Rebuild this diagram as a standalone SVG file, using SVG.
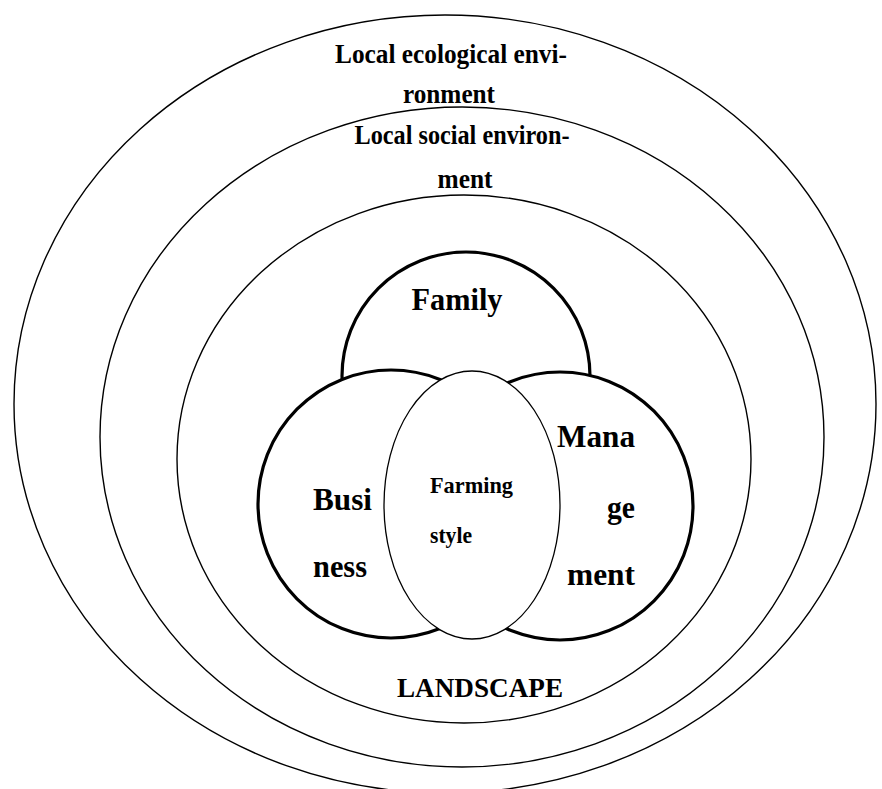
<svg xmlns="http://www.w3.org/2000/svg" width="882" height="789" viewBox="0 0 882 789">
<style>
.ring{fill:#ffffff;stroke:#000;stroke-width:1.4}
.set{fill:#ffffff;stroke:#000;stroke-width:3.2}
.core{fill:#ffffff;stroke:#000;stroke-width:1.3}
text{font-family:"Liberation Serif","Times New Roman",serif;font-weight:bold;fill:#000}
.lbl{font-size:26.5px}
.big{font-size:32px}
.mid{font-size:23px}
</style>
<rect width="882" height="789" fill="#ffffff"/>
<g id="ecological">
<ellipse class="ring" cx="445" cy="404" rx="431" ry="389"/>
<text class="lbl" x="451" y="63" text-anchor="middle" textLength="232" lengthAdjust="spacingAndGlyphs">Local ecological envi-</text>
<text class="lbl" x="449" y="103" text-anchor="middle" textLength="92" lengthAdjust="spacingAndGlyphs">ronment</text>
</g>
<g id="social">
<ellipse class="ring" cx="462" cy="437" rx="362" ry="330"/>
<text class="lbl" x="462" y="144" text-anchor="middle" textLength="215" lengthAdjust="spacingAndGlyphs">Local social environ-</text>
<text class="lbl" x="465" y="188" text-anchor="middle" textLength="55" lengthAdjust="spacingAndGlyphs">ment</text>
</g>
<g id="landscape">
<ellipse class="ring" cx="464" cy="459" rx="287" ry="264"/>
<text class="lbl" x="480" y="697" text-anchor="middle" textLength="166" lengthAdjust="spacingAndGlyphs">LANDSCAPE</text>
</g>
<g id="family">
<circle class="set" cx="466" cy="376" r="124"/>
<text class="big" x="457" y="310" text-anchor="middle" textLength="91" lengthAdjust="spacingAndGlyphs">Family</text>
</g>
<g id="business">
<ellipse class="set" cx="391" cy="504" rx="133" ry="134"/>
<text class="big" x="313" y="510" textLength="59" lengthAdjust="spacingAndGlyphs">Busi</text>
<text class="big" x="313" y="577" textLength="54" lengthAdjust="spacingAndGlyphs">ness</text>
</g>
<g id="management">
<ellipse class="set" cx="560" cy="506" rx="133" ry="134"/>
<text class="big" x="635" y="447" text-anchor="end" textLength="78" lengthAdjust="spacingAndGlyphs">Mana</text>
<text class="big" x="635" y="518" text-anchor="end" textLength="28" lengthAdjust="spacingAndGlyphs">ge</text>
<text class="big" x="635" y="585" text-anchor="end" textLength="68" lengthAdjust="spacingAndGlyphs">ment</text>
</g>
<g id="farming-style">
<ellipse class="core" cx="472" cy="505" rx="88" ry="134"/>
<text class="mid" x="430" y="493" textLength="83" lengthAdjust="spacingAndGlyphs">Farming</text>
<text class="mid" x="430" y="543" textLength="42" lengthAdjust="spacingAndGlyphs">style</text>
</g>
<g id="connectors"></g>
</svg>
